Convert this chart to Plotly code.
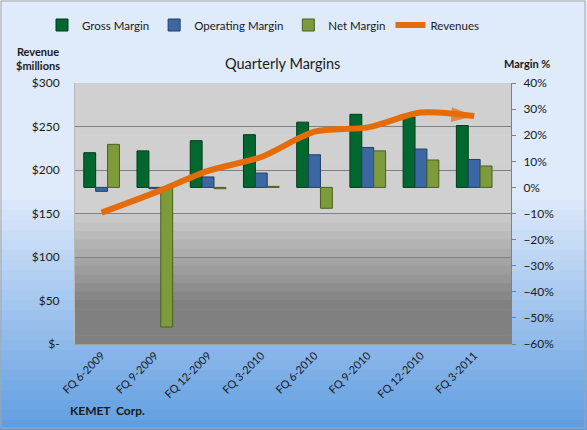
import plotly.graph_objects as go

quarters = ["FQ 6-2009", "FQ 9-2009", "FQ 12-2009", "FQ 3-2010",
            "FQ 6-2010", "FQ 9-2010", "FQ 12-2010", "FQ 3-2011"]
gross_margin = [13.3, 14.0, 17.9, 20.2, 25.0, 28.0, 27.0, 23.7]
operating_margin = [-1.5, -0.5, 4.0, 5.5, 12.5, 15.3, 14.7, 10.7]
net_margin = [16.5, -53.5, -0.5, 0.4, -8.0, 14.0, 10.5, 8.2]
revenues = [151, 174, 199, 215, 244, 249, 266, 262]

rev_ticks = [0, 50, 100, 150, 200, 250, 300]
rev_ticktext = ["$-", "$50", "$100", "$150", "$200", "$250", "$300"]

W, H = 587, 430
L, R, T, B = 75, 76, 83, 86
PW, PH = W - L - R, H - T - B


def px_x(p):
    return (p - L) / PW


def px_y(p):
    return (H - B - p) / PH


def mix(c1, c2, f):
    return "rgb(%d,%d,%d)" % tuple(round(a + (b - a) * f) for a, b in zip(c1, c2))


shapes = []
# page background gradient
n = 43
for i in range(n):
    y0, y1 = i * H / n, (i + 1) * H / n
    f = max(0.0, (y0 - 190) / (H - 190))
    shapes.append(dict(type="rect", xref="paper", yref="paper", layer="below",
                       x0=px_x(0), x1=px_x(W), y0=px_y(y1) - 0.002, y1=px_y(y0),
                       line_width=0, fillcolor=mix((223, 234, 251), (92, 155, 224), f)))
# plot area gradient
n = 30
for i in range(n):
    y0, y1 = T + i * PH / n, T + (i + 1) * PH / n
    f = min(1.0, max(0.0, (y0 - 205) / 95))
    shapes.append(dict(type="rect", xref="paper", yref="paper", layer="below",
                       x0=0, x1=1, y0=px_y(y1) - 0.002, y1=px_y(y0),
                       line_width=0, fillcolor=mix((208, 208, 208), (128, 128, 128), f)))
shapes.append(dict(type="rect", xref="paper", yref="paper", layer="above",
                   x0=px_x(1), x1=px_x(W - 2), y0=px_y(H - 2), y1=px_y(1),
                   line=dict(color="#a6a6a6", width=1)))

fig = go.Figure()
bar_style = [
    ("Gross Margin", gross_margin, "#00682f", "#003d1a"),
    ("Operating Margin", operating_margin, "#3b68a3", "#223f66"),
    ("Net Margin", net_margin, "#7d9b3b", "#4b5f22"),
]
for name, vals, col, edge in bar_style:
    fig.add_trace(go.Bar(x=quarters, y=vals, name=name, yaxis="y",
                         marker=dict(color=col, line=dict(color=edge, width=1))))

fig.add_trace(go.Scatter(
    x=quarters, y=revenues, name="Revenues", yaxis="y2",
    mode="lines+markers",
    line=dict(color="#e46c0a", width=6, shape="spline", smoothing=0.8),
    marker=dict(symbol=["circle"] * (len(revenues) - 1) + ["arrow"],
                size=[0] * (len(revenues) - 1) + [24],
                angleref="previous", color="#e46c0a", line_width=0),
))


def note(text, x, y, size, **kw):
    return dict(text=text, x=px_x(x), y=px_y(y), xref="paper", yref="paper",
                xanchor=kw.pop("xanchor", "center"), yanchor="middle",
                showarrow=False, font=dict(size=size), **kw)


fig.update_layout(
    width=W, height=H,
    margin=dict(l=L, r=R, t=T, b=B, autoexpand=False),
    paper_bgcolor="#dfeafb", plot_bgcolor="rgba(0,0,0,0)",
    font=dict(family="Lato", size=12, color="#1a1a1a"),
    barmode="group", bargap=0.33, bargroupgap=0,
    shapes=shapes,
    legend=dict(orientation="h", x=px_x(42), y=px_y(25), xanchor="left", yanchor="middle",
                bgcolor="rgba(0,0,0,0)", font=dict(size=11.5), itemwidth=30),
    xaxis=dict(type="category", tickangle=-45, tickfont=dict(size=11),
               showgrid=False, showline=True, linecolor="#a0a0a0",
               ticks="", zeroline=False, automargin=False),
    yaxis=dict(side="right", range=[-60, 40], dtick=10, ticksuffix="%",
               showgrid=False, zeroline=False, showline=True, linecolor="#808080",
               ticks="outside", ticklen=4, tickcolor="#808080", ticklabelstandoff=5,
               tickfont=dict(size=12), automargin=False),
    yaxis2=dict(overlaying="y", side="left", range=[0, 300],
                tickvals=rev_ticks, ticktext=rev_ticktext,
                showgrid=True, gridcolor="#808080", gridwidth=1,
                zeroline=False, showline=True, linecolor="#b8b8b8",
                ticks="", ticklabelstandoff=12,
                tickfont=dict(size=12), automargin=False),
    annotations=[
        note("Quarterly Margins", 282, 63, 14.5),
        note("<b>Revenue<br>$millions</b>", 38, 59, 11, align="center"),
        note("<b>Margin %</b>", 527, 63, 11),
        note("<b>KEMET  Corp.</b>", 68, 410, 12, xanchor="left"),
    ],
)

fig.write_html("out.html", config={"displayModeBar": False},
               post_script="document.body.style.margin='0';")
